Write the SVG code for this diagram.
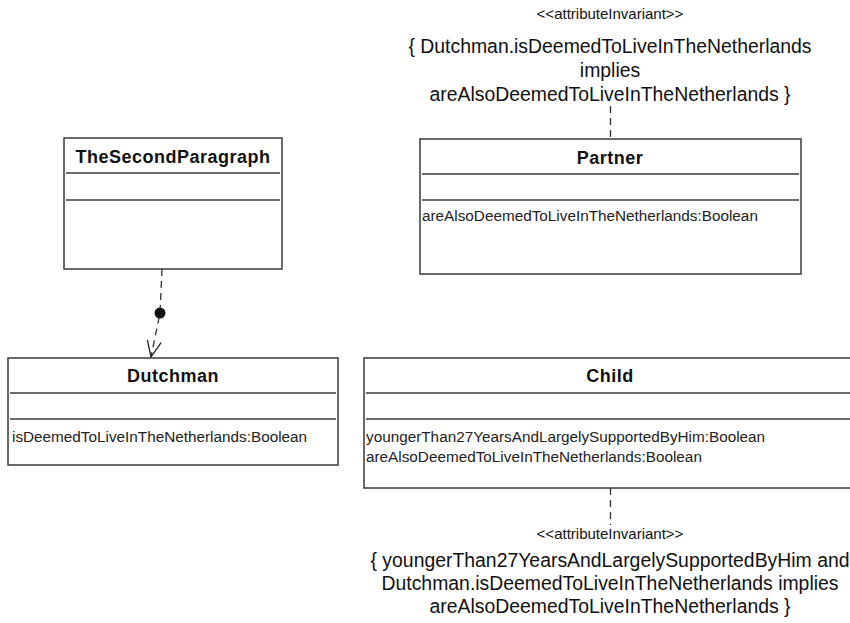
<svg xmlns="http://www.w3.org/2000/svg" width="850" height="623" viewBox="0 0 850 623">
<defs>
<style>
.box{fill:#fff;stroke:#3a3a3a;stroke-width:1.5}
.sep{stroke:#3a3a3a;stroke-width:1.5}
.title{font-family:"Liberation Sans",Arial,sans-serif;font-weight:bold;font-size:18px;letter-spacing:0.5px;fill:#111;text-anchor:middle}
.attr{font-family:"Liberation Sans",Arial,sans-serif;font-size:15.3px;fill:#222}
.stereo{font-family:"Liberation Sans",Arial,sans-serif;font-size:15px;fill:#111;text-anchor:middle}
.note{font-family:"Liberation Sans",Arial,sans-serif;font-size:19.4px;fill:#111;text-anchor:middle}
.dash{fill:none;stroke:#333;stroke-width:1.3;stroke-dasharray:7,5}
</style>
<marker id="open" viewBox="0 0 20 20" refX="18" refY="10" markerWidth="20" markerHeight="20" markerUnits="userSpaceOnUse" orient="auto">
<path d="M2,3 L18,10 L2,17" fill="none" stroke="#222" stroke-width="1.3"/>
</marker>
</defs>
<rect width="850" height="623" fill="#fff"/>

<g id="TheSecondParagraph">
<rect class="box" x="64" y="138" width="218" height="131"/>
<line class="sep" x1="66" y1="173" x2="280" y2="173"/>
<line class="sep" x1="66" y1="200" x2="280" y2="200"/>
<text class="title" x="173" y="163">TheSecondParagraph</text>
</g>

<g id="Partner">
<rect class="box" x="420" y="139" width="381" height="135"/>
<line class="sep" x1="422" y1="174" x2="799" y2="174"/>
<line class="sep" x1="422" y1="200" x2="799" y2="200"/>
<text class="title" x="610" y="164">Partner</text>
<text class="attr" x="422" y="221">areAlsoDeemedToLiveInTheNetherlands:Boolean</text>
</g>

<g id="Dutchman">
<rect class="box" x="8" y="358" width="330" height="107"/>
<line class="sep" x1="10" y1="393" x2="336" y2="393"/>
<line class="sep" x1="10" y1="419" x2="336" y2="419"/>
<text class="title" x="173" y="382">Dutchman</text>
<text class="attr" x="12" y="442">isDeemedToLiveInTheNetherlands:Boolean</text>
</g>

<g id="Child">
<rect class="box" x="364" y="358" width="494" height="130"/>
<line class="sep" x1="366" y1="393" x2="856" y2="393"/>
<line class="sep" x1="366" y1="419" x2="856" y2="419"/>
<text class="title" x="610" y="382">Child</text>
<text class="attr" x="366" y="442">youngerThan27YearsAndLargelySupportedByHim:Boolean</text>
<text class="attr" x="366" y="462">areAlsoDeemedToLiveInTheNetherlands:Boolean</text>
</g>

<g id="PartnerInvariant">
<text class="stereo" x="610" y="19">&lt;&lt;attributeInvariant&gt;&gt;</text>
<text class="note" x="610" y="53">{ Dutchman.isDeemedToLiveInTheNetherlands</text>
<text class="note" x="610" y="77">implies</text>
<text class="note" x="610" y="101">areAlsoDeemedToLiveInTheNetherlands }</text>
</g>

<g id="ChildInvariant">
<text class="stereo" x="610" y="539">&lt;&lt;attributeInvariant&gt;&gt;</text>
<text class="note" x="610" y="567">{ youngerThan27YearsAndLargelySupportedByHim and</text>
<text class="note" x="610" y="590">Dutchman.isDeemedToLiveInTheNetherlands implies</text>
<text class="note" x="610" y="613">areAlsoDeemedToLiveInTheNetherlands }</text>
</g>

<g id="connectors">
<path class="dash" d="M162,269 L160,313 L151,357" marker-end="url(#open)"/>
<circle cx="160" cy="313" r="5.5" fill="#111"/>
<line class="dash" x1="610.5" y1="106" x2="610.5" y2="139"/>
<line class="dash" x1="610.5" y1="488" x2="610.5" y2="525"/>
</g>
</svg>
